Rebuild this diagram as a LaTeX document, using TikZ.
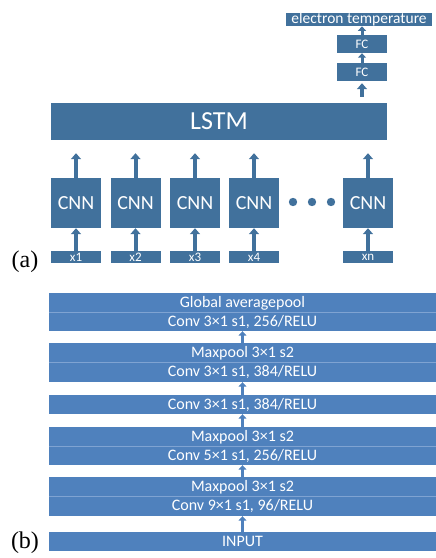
\documentclass[tikz,border=0pt]{standalone}
\usepackage{fontspec}
\setmainfont{Carlito}
\newfontfamily\serifl{Liberation Serif}
\usetikzlibrary{arrows.meta}
\definecolor{dblue}{HTML}{41719C}
\definecolor{lblue}{HTML}{4F81BD}
\definecolor{divl}{HTML}{7FA3D2}
\tikzset{
  abox/.style={fill=dblue, text=white, inner sep=0pt, draw=none},
  bbox/.style={fill=lblue, text=white, inner sep=0pt, draw=none, minimum width=387pt, align=center, font=\fontsize{16}{19}\selectfont},
  bigarr/.style={draw=dblue, line width=4pt, -{Triangle[width=10pt,length=6pt]}},
  smarr/.style={draw=dblue, line width=3pt, -{Triangle[width=8pt,length=4.5pt]}},
  barr/.style={draw=lblue, line width=3pt, -{Triangle[width=8pt,length=4.5pt]}},
  lbl/.style={font=\serifl\fontsize{24}{24}\selectfont, inner sep=0pt}
}
\begin{document}
\begin{tikzpicture}[x=1pt,y=-1pt]
\useasboundingbox (0,0) rectangle (436,558);
% part (a)
\node[abox, minimum width=146pt, minimum height=13pt, font=\fontsize{15.5}{15.5}\selectfont] (et) at (359,19.5) {electron temperature};
\node[abox, minimum width=50pt, minimum height=18pt, font=\fontsize{13}{13}\selectfont] (fc2) at (362,44) {FC};
\node[abox, minimum width=50pt, minimum height=18pt, font=\fontsize{13}{13}\selectfont] (fc1) at (362,72) {FC};
\node[abox, minimum width=336pt, minimum height=37pt, font=\fontsize{26}{26}\selectfont] (lstm) at (219,121.5) {LSTM};
\foreach \n/\cx/\t in {1/76/x1,2/135.5/x2,3/195/x3,4/254/x4,5/368/xn}{
  \node[abox, minimum width=50pt, minimum height=50pt, font=\fontsize{20}{20}\selectfont] (c\n) at (\cx,203) {CNN};
  \node[abox, minimum width=50pt, minimum height=12pt, font=\fontsize{13}{13}\selectfont] (x\n) at (\cx,257) {\t};
  \draw[bigarr] (x\n.north) -- (c\n.south);
  \draw[bigarr, shorten >=13pt] (c\n.north) -- (c\n.north |- lstm.south);
}
\foreach \d/\dx in {1/293,2/312,3/331}{
  \fill[dblue] (\dx,202) circle[radius=4.2pt] coordinate (dot\d);
}
\draw[bigarr, shorten <=6pt, shorten >=2pt] (lstm.north -| fc1.south) -- (fc1.south);
\draw[smarr] (fc1.north) -- (fc2.south);
\draw[smarr] (fc2.north) -- (et.south -| fc2.north);
\node[lbl] (la) at (25,262) {(a)};
% part (b)
\node[bbox, minimum height=38pt] (b1) at (242.5,312) {Global averagepool\\Conv 3×1 s1, 256/RELU};
\node[bbox, minimum height=39pt] (b2) at (242.5,362.5) {Maxpool 3×1 s2\\Conv 3×1 s1, 384/RELU};
\node[bbox, minimum height=19pt] (b3) at (242.5,404.5) {Conv 3×1 s1, 384/RELU};
\node[bbox, minimum height=38pt] (b4) at (242.5,446) {Maxpool 3×1 s2\\Conv 5×1 s1, 256/RELU};
\node[bbox, minimum height=39pt] (b5) at (242.5,496.5) {Maxpool 3×1 s2\\Conv 9×1 s1, 96/RELU};
\node[bbox, minimum height=19pt] (in) at (242.5,541.5) {INPUT};
\foreach \b in {b1,b2,b4,b5}{
  \draw[divl, line width=0.6pt] (\b.west) -- (\b.east);
}
\draw[barr] (in.north) -- (b5.south);
\draw[barr] (b5.north) -- (b4.south);
\draw[barr] (b4.north) -- (b3.south);
\draw[barr] (b3.north) -- (b2.south);
\draw[barr] (b2.north) -- (b1.south);
\node[lbl] (lb) at (25,543) {(b)};
\end{tikzpicture}
\end{document}
